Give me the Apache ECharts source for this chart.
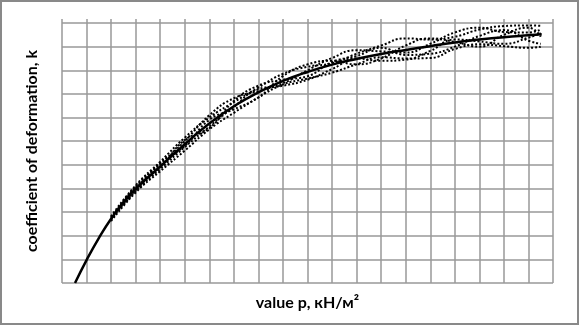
<!DOCTYPE html>
<html>
<head>
<meta charset="utf-8">
<script src="https://cdn.jsdelivr.net/npm/echarts@6/dist/echarts.min.js"></script>
<style>
  html, body { margin: 0; padding: 0; background: #fff; }
  #chart { width: 579px; height: 325px; }
</style>
</head>
<body>
<div id="chart"></div>
<script>
// solid curve
var mainX = [0.53, 1.0, 1.5, 2.0, 2.5, 3.0, 4.0, 5.0, 6.0, 7.0, 8.0, 9.0, 10.0, 11.0, 12.0, 13.0, 14.0, 15.0, 16.0, 17.0, 18.0, 19.0, 19.54];
var mainY = [0, 0.97, 1.9, 2.72, 3.4, 3.98, 4.93, 5.87, 6.75, 7.48, 8.07, 8.55, 8.93, 9.24, 9.48, 9.69, 9.86, 10.02, 10.18, 10.3, 10.4, 10.48, 10.52];

// dotted curves scattered round the solid one
var dotX = [2, 3, 4, 5, 6, 7, 8, 9, 10, 11, 12, 13, 14, 15, 16, 17, 18, 19, 19.5];
var dot1 = [2.82, 4.13, 5.13, 6.15, 7.0, 7.65, 8.27, 8.85, 9.15, 9.3, 9.7, 10.05, 10.35, 10.3, 10.42, 10.72, 10.87, 10.9, 10.88];
var dot2 = [2.62, 3.83, 4.73, 5.6, 6.5, 7.2, 7.85, 8.4, 8.65, 8.9, 9.25, 9.55, 9.5, 9.52, 9.9, 10.1, 10.02, 9.95, 10.0];
var dot3 = [2.77, 4.08, 5.03, 6.0, 7.1, 7.82, 8.12, 8.45, 9.0, 9.52, 9.85, 9.8, 9.75, 10.12, 10.6, 10.8, 10.62, 10.6, 10.72];
var dot4 = [2.67, 3.88, 4.83, 5.75, 6.62, 7.45, 8.2, 8.35, 8.6, 9.05, 9.5, 9.4, 9.45, 9.82, 10.3, 10.22, 10.12, 10.38, 10.57];
var dot5 = [2.8, 3.93, 5.08, 5.8, 6.9, 7.35, 7.85, 8.75, 9.25, 9.4, 9.25, 9.5, 10.05, 10.35, 10.2, 10.0, 10.5, 10.8, 10.42];
var dot6 = [2.7, 4.03, 4.88, 6.05, 6.55, 7.7, 8.35, 8.6, 8.75, 9.35, 9.6, 9.95, 9.65, 9.7, 10.0, 10.45, 10.7, 10.25, 10.12];

var xTitle = 'value p, кН/м²';
var yTitle = 'coefficient of deformation, k';

function pairs(xs, ys) {
  return xs.map(function (x, i) { return [x, ys[i]]; });
}

var chart = echarts.init(document.getElementById('chart'));

var dotSeries = [dot1, dot2, dot3, dot4, dot5, dot6].map(function (d) {
  return {
    type: 'line',
    data: pairs(dotX, d),
    smooth: true,
    symbol: 'none',
    lineStyle: { color: '#000', width: 2, type: [2, 2] },
    animation: false
  };
});

chart.setOption({
  backgroundColor: '#fff',
  animation: false,
  graphic: [{
    type: 'rect',
    shape: { x: 1, y: 1, width: 577, height: 323 },
    style: { fill: 'none', stroke: '#898989', lineWidth: 2 },
    silent: true
  }],
  grid: { left: 62, right: 26, top: 19, bottom: 42 },
  xAxis: {
    type: 'value',
    min: 0,
    max: 20,
    interval: 1,
    name: xTitle,
    nameLocation: 'middle',
    nameGap: 12,
    nameTextStyle: { fontFamily: 'Lato', fontWeight: 'bold', fontSize: 16, color: '#000' },
    axisLine: { show: false },
    axisTick: { show: false },
    axisLabel: { show: false },
    splitLine: { show: true, lineStyle: { color: '#999', width: 1.5 } }
  },
  yAxis: {
    type: 'value',
    min: 0,
    max: 11.17,
    interval: 1,
    name: yTitle,
    nameLocation: 'middle',
    nameGap: 22,
    nameTextStyle: { fontFamily: 'Lato', fontWeight: 'bold', fontSize: 16, color: '#000' },
    axisLine: { show: false },
    axisTick: { show: false },
    axisLabel: { show: false },
    splitLine: { show: true, showMaxLine: false, lineStyle: { color: '#999', width: 1.5 } }
  },
  series: dotSeries.concat([{
    type: 'line',
    data: pairs(mainX, mainY),
    smooth: true,
    symbol: 'none',
    lineStyle: { color: '#000', width: 2.5 },
    z: 5
  }])
});
</script>
</body>
</html>
